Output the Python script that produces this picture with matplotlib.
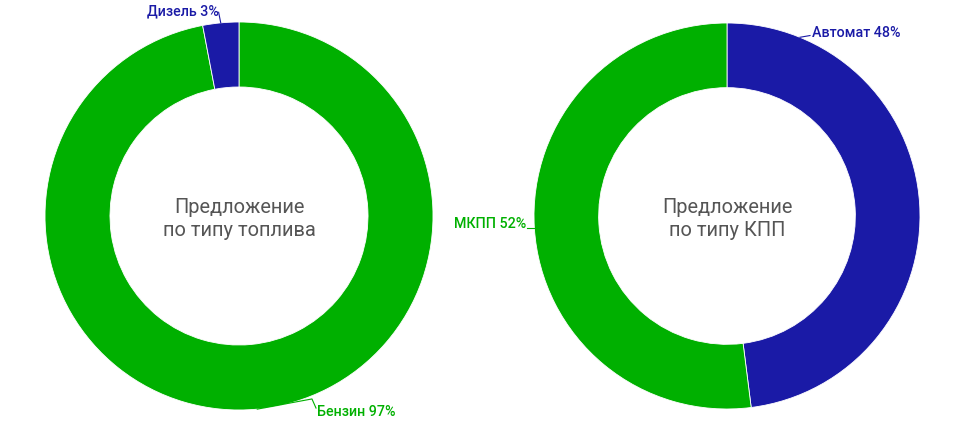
import numpy as np
import matplotlib
matplotlib.use("Agg")
import matplotlib.pyplot as plt

plt.rcParams['font.family'] = ['Roboto', 'DejaVu Sans']

# Data
fuel_labels = ["Бензин", "Дизель"]
fuel_values = [97, 3]
gear_labels = ["Автомат", "МКПП"]
gear_values = [48, 52]
fuel_title = "Предложение\nпо типу топлива"
gear_title = "Предложение\nпо типу КПП"

GREEN = "#00b000"
BLUE = "#1a1aa6"
fuel_colors = [GREEN, BLUE]
gear_colors = [BLUE, GREEN]

W, H = 975, 435
fig = plt.figure(figsize=(W / 100, H / 100), dpi=100)
fig.patch.set_facecolor("white")

LBL = dict(fontsize=10.3, fontweight="medium", clip_on=False)


def make_ax(cx, cy, r):
    return fig.add_axes([(cx - r) / W, (H - cy - r) / H, 2 * r / W, 2 * r / H])


def donut(ax, values, colors, title):
    ax.pie(values, colors=colors, startangle=90, counterclock=False,
           radius=1.0, wedgeprops=dict(width=0.335, edgecolor="white", linewidth=0.6))
    ax.set_xlim(-1, 1)
    ax.set_ylim(-1, 1)
    ax.set_aspect("equal")
    ax.axis("off")
    ax.text(0, -0.01, title, ha="center", va="center", fontsize=14.4, color="#555555",
            linespacing=1.25)
    mids = []
    cum = 0
    tot = sum(values)
    for v in values:
        a = np.deg2rad(90 - (cum + v / 2) / tot * 360)
        mids.append((np.cos(a), np.sin(a)))
        cum += v
    return mids


# Left donut
axL = make_ax(239, 217, 194)
midsL = donut(axL, fuel_values, fuel_colors, fuel_title)
# Бензин label (bent leader)
x0, y0 = midsL[0]
axL.plot([x0, 0.376, 0.397], [y0, -0.943, -0.99], color=GREEN, lw=0.8, clip_on=False)
axL.text(0.40, -1.005, f"{fuel_labels[0]} {fuel_values[0]}%", ha="left", va="center",
         color=GREEN, **LBL)
# Дизель label
x1, y1 = midsL[1]
axL.plot([x1, -0.105], [y1, 1.05], color=BLUE, lw=0.8, clip_on=False)
axL.text(-0.105, 1.058, f"{fuel_labels[1]} {fuel_values[1]}%", ha="right", va="center",
         color=BLUE, **LBL)

# Right donut
axR = make_ax(727, 217, 193)
midsR = donut(axR, gear_values, gear_colors, gear_title)
# МКПП label
x2, y2 = midsR[1]
axR.plot([x2, -1.035], [y2, y2], color=GREEN, lw=0.8, clip_on=False)
axR.text(-1.04, y2 + 0.025, f"{gear_labels[1]} {gear_values[1]}%", ha="right", va="center",
         color=GREEN, **LBL)
# Автомат label
axR.plot([0.378, 0.43], [0.926, 0.935], color=BLUE, lw=0.8, clip_on=False)
axR.text(0.44, 0.953, f"{gear_labels[0]} {gear_values[0]}%", ha="left", va="center",
         color=BLUE, **LBL)

fig.savefig("out.png", dpi=100, facecolor="white")
